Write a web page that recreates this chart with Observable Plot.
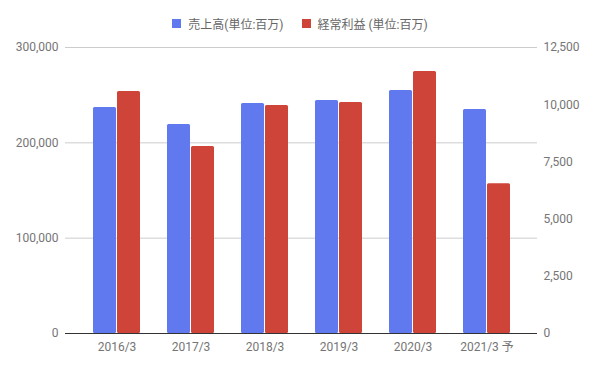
<!DOCTYPE html>
<html>
<head>
<meta charset="utf-8">
<script src="https://cdn.jsdelivr.net/npm/d3@7"></script>
<script src="https://cdn.jsdelivr.net/npm/@observablehq/plot@0.6"></script>
<style>
  html, body { margin: 0; padding: 0; background: #fff; }
  body { width: 596px; height: 367px; overflow: hidden; font-family: Roboto, "Noto Sans CJK JP", sans-serif; }
  #legend { height: 40px; display: flex; justify-content: center; align-items: center; font-size: 12px; color: #666; padding-top: 6px; box-sizing: border-box; padding-left: 4px; }
  .item { display: flex; align-items: center; margin: 0 9px; }
  .sw { width: 9px; height: 9px; margin-right: 7px; }
</style>
</head>
<body>
<div id="legend"></div>
<div id="chart"></div>
<script>
const categories = ["2016/3", "2017/3", "2018/3", "2019/3", "2020/3", "2021/3 予"];
const sales = [237000, 219200, 241300, 244400, 254900, 235000];   // 売上高 (left axis)
const profit = [10580, 8170, 9970, 10100, 11450, 6540];          // 経常利益 (right axis)
const seriesNames = ["売上高(単位:百万)", "経常利益 (単位:百万)"];
const leftTicks = [0, 100000, 200000, 300000];
const rightTicks = [0, 2500, 5000, 7500, 10000, 12500];

const colors = ["#6079ef", "#cf4439"];
const k = leftTicks[leftTicks.length - 1] / rightTicks[rightTicks.length - 1];

const data = categories.map((c, i) => ({cat: c, sales: sales[i], profit: profit[i]}));

const legend = document.getElementById("legend");
seriesNames.forEach((n, i) => {
  const it = document.createElement("div");
  it.className = "item";
  it.innerHTML = `<span class="sw" style="background:${colors[i]}"></span><span>${n}</span>`;
  legend.appendChild(it);
});

const fmt = d3.format(",");
const chart = Plot.plot({
  width: 596,
  height: 327,
  marginTop: 7,
  marginBottom: 34,
  marginLeft: 65,
  marginRight: 59,
  style: {fontFamily: "Roboto, 'Noto Sans CJK JP', sans-serif", fontSize: "12px", color: "#757575", background: "#fff"},
  x: {domain: categories, paddingInner: 0.367, paddingOuter: 0.364, label: null},
  y: {domain: [0, 300000], label: null},
  marks: [
    Plot.gridY(leftTicks.slice(1), {stroke: "#cccccc", strokeOpacity: 1}),
    Plot.barY(data, {x: "cat", y: "sales", fill: colors[0], insetRight: 24, rx: 1.5}),
    Plot.barY(data, {x: "cat", y: d => d.profit * k, fill: colors[1], insetLeft: 24, rx: 1.5}),
    Plot.ruleY([0], {stroke: "#333"}),
    Plot.axisX({tickSize: 0, tickPadding: 9, label: null}),
    Plot.axisY(leftTicks, {anchor: "left", tickSize: 0, tickPadding: 7, tickFormat: fmt, label: null}),
    Plot.axisY(rightTicks.map(v => v * k), {anchor: "right", tickSize: 0, tickPadding: 6, tickFormat: d => fmt(Math.round(d / k)), label: null})
  ]
});
document.getElementById("chart").appendChild(chart);
</script>
</body>
</html>
